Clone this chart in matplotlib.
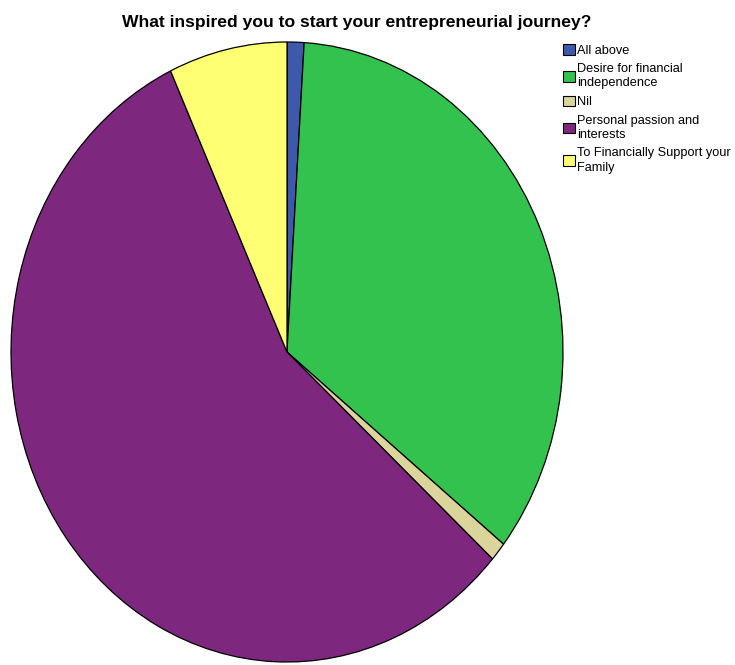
import matplotlib
matplotlib.use("Agg")
import matplotlib.pyplot as plt

plt.rcParams['font.family'] = ['Liberation Sans', 'DejaVu Sans']

labels = ['All above', 'Desire for financial\nindependence', 'Nil',
          'Personal passion and\ninterests', 'To Financially Support your\nFamily']
counts = [1, 35, 1, 57, 7]
colors = ['#3E58AC', '#33C24D', '#DBD59C', '#7D287E', '#FFFF73']

fig = plt.figure(figsize=(7.35, 6.65), dpi=100)
ax = fig.add_axes([11 / 735, 3 / 665, 552 / 735, 620 / 665])

wedges, _ = ax.pie(counts, colors=colors, startangle=90, counterclock=False,
                   radius=1.0, wedgeprops=dict(edgecolor='black', linewidth=0.9))
ax.set_aspect('auto')
ax.set_xlim(-1.0, 1.0)
ax.set_ylim(-1.0, 1.0)
ax.axis('off')

fig.text(357 / 735, 1 - 22 / 665, 'What inspired you to start your entrepreneurial journey?',
         ha='center', va='center', fontsize=12.6, fontweight='bold')

leg = fig.legend(wedges, labels, loc='upper left', bbox_to_anchor=(563 / 735, 1 - 44 / 665),
                 frameon=False, fontsize=9.2, handlelength=0.9, handleheight=0.9,
                 handletextpad=0.2, labelspacing=0.5, borderaxespad=0, borderpad=0)
for h in leg.legend_handles:
    h.set_linewidth(0.8)
for t in leg.get_texts():
    t.set_linespacing(1.25)

fig.savefig('out.png', dpi=100, facecolor='white')
